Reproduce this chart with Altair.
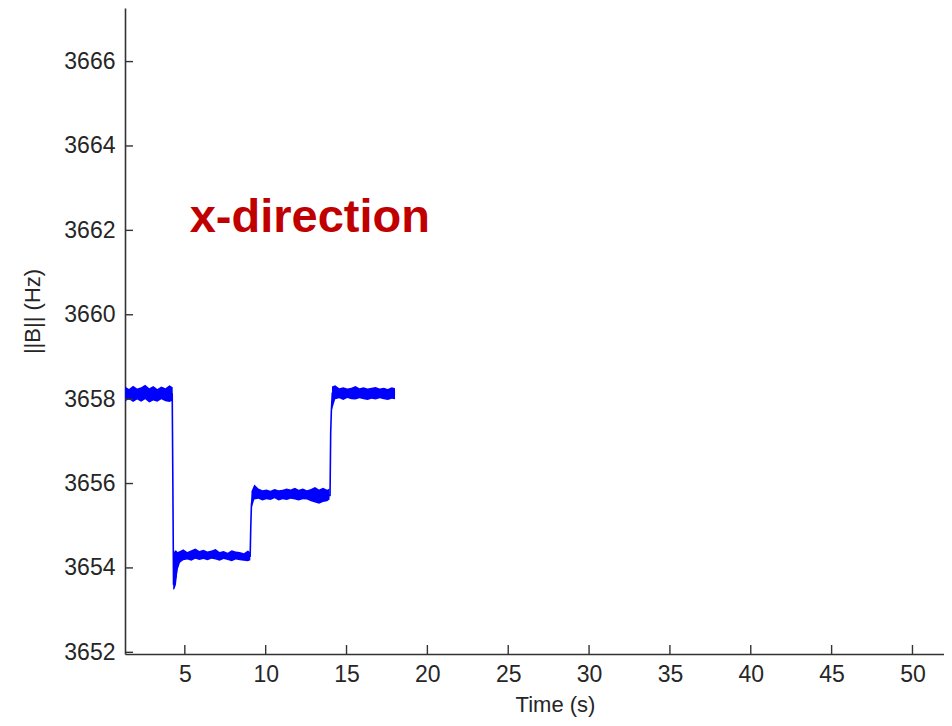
import altair as alt
import pandas as pd

# ---- data ----
# noise envelope of each plateau (segment, time, lower, upper)
seg_a_t = [1.3, 1.55, 1.8, 2.05, 2.3, 2.55, 2.8, 3.05, 3.3, 3.55, 3.8, 4.05, 4.25]
seg_a_hi = [3658.30, 3658.24, 3658.32, 3658.25, 3658.28, 3658.34, 3658.26, 3658.31, 3658.24, 3658.30, 3658.26, 3658.33, 3658.28]
seg_a_lo = [3657.95, 3658.00, 3657.93, 3657.99, 3657.94, 3658.00, 3657.92, 3657.97, 3657.94, 3658.00, 3657.95, 3657.93, 3657.97]

seg_b_t = [4.28, 4.36, 4.45, 4.55, 4.7, 4.9, 5.15, 5.4, 5.65, 5.9, 6.15, 6.4, 6.65, 6.9, 7.15, 7.4, 7.65, 7.9, 8.15, 8.4, 8.65, 8.9, 9.05]
seg_b_hi = [3654.30, 3654.40, 3654.42, 3654.38, 3654.40, 3654.44, 3654.38, 3654.42, 3654.46, 3654.40, 3654.43, 3654.39, 3654.41, 3654.45, 3654.38, 3654.40, 3654.36, 3654.42, 3654.39, 3654.38, 3654.35, 3654.41, 3654.37]
seg_b_lo = [3653.48, 3653.50, 3653.60, 3653.95, 3654.12, 3654.18, 3654.20, 3654.17, 3654.22, 3654.19, 3654.21, 3654.18, 3654.22, 3654.20, 3654.17, 3654.21, 3654.19, 3654.16, 3654.20, 3654.18, 3654.17, 3654.16, 3654.18]

seg_c_t = [9.12, 9.3, 9.55, 9.8, 10.05, 10.3, 10.55, 10.8, 11.05, 11.3, 11.55, 11.8, 12.05, 12.3, 12.55, 12.8, 13.05, 13.3, 13.55, 13.8, 13.95]
seg_c_hi = [3655.82, 3655.98, 3655.88, 3655.84, 3655.86, 3655.83, 3655.87, 3655.84, 3655.85, 3655.88, 3655.86, 3655.90, 3655.85, 3655.88, 3655.84, 3655.87, 3655.92, 3655.86, 3655.90, 3655.85, 3655.88]
seg_c_lo = [3655.40, 3655.62, 3655.64, 3655.60, 3655.63, 3655.61, 3655.65, 3655.60, 3655.63, 3655.61, 3655.64, 3655.62, 3655.60, 3655.63, 3655.62, 3655.58, 3655.55, 3655.52, 3655.56, 3655.58, 3655.62]

seg_d_t = [14.1, 14.3, 14.55, 14.8, 15.05, 15.3, 15.55, 15.8, 16.05, 16.3, 16.55, 16.8, 17.05, 17.3, 17.55, 17.8, 18.0]
seg_d_hi = [3658.30, 3658.33, 3658.26, 3658.28, 3658.25, 3658.27, 3658.31, 3658.26, 3658.28, 3658.25, 3658.27, 3658.29, 3658.25, 3658.27, 3658.24, 3658.28, 3658.26]
seg_d_lo = [3657.75, 3658.00, 3658.02, 3657.98, 3658.03, 3658.00, 3657.99, 3658.02, 3658.00, 3657.98, 3658.01, 3657.99, 3658.02, 3658.00, 3657.98, 3658.01, 3658.00]

# centre trace including the step transitions
trace_t = [1.3, 4.22, 4.26, 4.3, 4.45, 4.6, 9.04, 9.08, 9.12, 9.2, 13.98, 14.02, 14.06, 14.12, 18.0]
trace_v = [3658.12, 3658.12, 3656.0, 3653.6, 3653.8, 3654.28, 3654.28, 3655.0, 3655.5, 3655.75, 3655.72, 3657.2, 3657.7, 3658.14, 3658.14]

x_ticks = [5, 10, 15, 20, 25, 30, 35, 40, 45, 50]
y_ticks = [3652, 3654, 3656, 3658, 3660, 3662, 3664, 3666]

label_text = ["x-direction"]
label_t = [5.3]
label_v = [3661.95]

# ---- tables ----
band_rows = []
for name, ts, los, his in [("a", seg_a_t, seg_a_lo, seg_a_hi), ("b", seg_b_t, seg_b_lo, seg_b_hi),
                           ("c", seg_c_t, seg_c_lo, seg_c_hi), ("d", seg_d_t, seg_d_lo, seg_d_hi)]:
    for t, lo, hi in zip(ts, los, his):
        band_rows.append({"seg": name, "t": t, "v": lo, "hi": hi})
band_df = pd.DataFrame(band_rows)
trace_df = pd.DataFrame({"t": trace_t, "v": trace_v})
xt_df = pd.DataFrame({"t": x_ticks})
yt_df = pd.DataFrame({"v": y_ticks})
lab_df = pd.DataFrame({"t": label_t, "v": label_v, "text": label_text})

W, H = 819, 646
xs = alt.Scale(domain=[1.3, 51.95], nice=False, zero=False)
ys = alt.Scale(domain=[3651.96, 3667.27], nice=False, zero=False)
FONT = "Liberation Sans"
TXT = "#262626"
BLUE = "#0000ff"

x_axis = alt.Axis(
    title="Time (s)", values=x_ticks, ticks=False, grid=False, format="d",
    labelFont=FONT, labelFontSize=23, labelColor=TXT, labelPadding=9,
    domainColor="#333333", domainWidth=1.6,
    titleFont=FONT, titleFontSize=22, titleFontWeight="normal", titleColor=TXT,
    titleX=430, titleY=50, titleBaseline="middle")
y_axis = alt.Axis(
    title="||B|| (Hz)", values=y_ticks, ticks=False, grid=False, format="d",
    labelFont=FONT, labelFontSize=23, labelColor=TXT, labelPadding=10,
    domainColor="#333333", domainWidth=1.6,
    titleFont=FONT, titleFontSize=22, titleFontWeight="normal", titleColor=TXT,
    titleX=-93, titleY=303, titleAngle=270, titleAlign="center", titleBaseline="middle")

X = alt.X("t:Q", scale=xs, axis=x_axis)
Y = alt.Y("v:Q", scale=ys, axis=y_axis)

line = alt.Chart(trace_df).mark_line(color=BLUE, strokeWidth=1.6).encode(x=X, y=Y)

band = alt.Chart(band_df).mark_area(color=BLUE, opacity=1).encode(
    x=X, y=Y, y2="hi:Q", detail="seg:N",
)

ytick = alt.Chart(yt_df).mark_rule(color="#333333", strokeWidth=1.4).encode(
    y=Y, x=alt.value(0), x2=alt.value(8),
)
xtick = alt.Chart(xt_df).mark_rule(color="#333333", strokeWidth=1.4).encode(
    x=X, y=alt.value(H), y2=alt.value(H - 9),
)

label = alt.Chart(lab_df).mark_text(
    color="#c00000", font=FONT, fontSize=47, fontWeight="bold", align="left", baseline="alphabetic"
).encode(x=X, y=Y, text="text:N")

chart = alt.layer(line, band, ytick, xtick, label).properties(
    width=W, height=H,
    autosize=alt.AutoSizeParams(type="none"),
    padding={"left": 117, "top": 0, "right": 0, "bottom": 64},
    background="white",
).configure_view(stroke=None)

chart.save("out.html", embed_options={"renderer": "svg", "actions": False})
